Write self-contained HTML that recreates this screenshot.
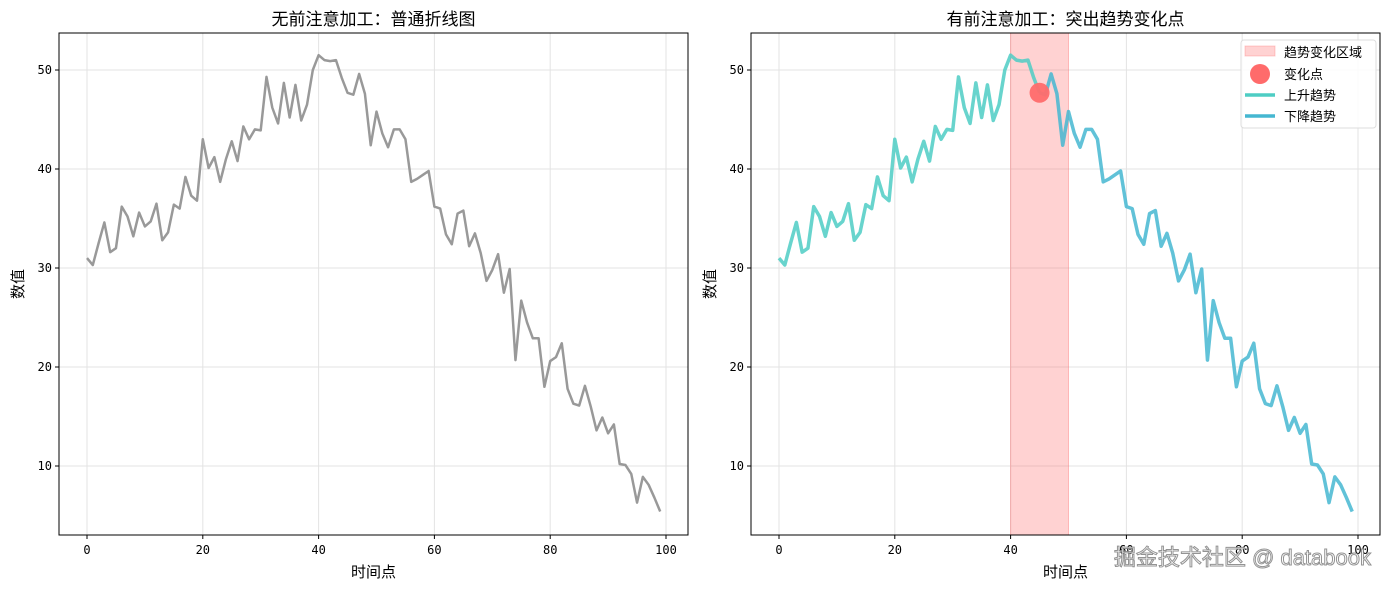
<!DOCTYPE html>
<html><head><meta charset="utf-8"><style>
body{margin:0;background:#fff;width:1390px;height:589px;overflow:hidden}
svg{display:block}
.t{font-family:"DejaVu Sans Mono","Liberation Mono",monospace;font-size:12px;fill:#000}
.c{font-family:"Liberation Sans","Noto Sans CJK SC",sans-serif}
</style></head><body>
<svg id="s" width="1390" height="589" xmlns="http://www.w3.org/2000/svg"></svg>
<script>
const d=[31.0,30.3,32.5,34.6,31.6,32.0,36.2,35.2,33.2,35.6,34.2,34.7,36.5,32.8,33.6,36.4,36.0,39.2,37.3,36.8,43.0,40.1,41.2,38.7,41.0,42.8,40.8,44.3,43.0,44.0,43.9,49.3,46.2,44.6,48.7,45.2,48.5,44.9,46.5,50.0,51.5,51.0,50.9,51.0,49.2,47.7,47.5,49.6,47.6,42.4,45.8,43.6,42.2,44.0,44.0,43.0,38.7,39.0,39.4,39.8,36.2,36.0,33.4,32.4,35.5,35.8,32.2,33.5,31.5,28.7,29.8,31.4,27.5,29.9,20.7,26.7,24.5,22.9,22.9,18.0,20.6,21.0,22.4,17.8,16.3,16.1,18.1,16.0,13.6,14.9,13.3,14.2,10.2,10.1,9.2,6.3,8.9,8.1,6.8,5.4];
const Y=v=>565-v*9.9;
let h='';
function panel(L,x0,title){
 const R=L+629,X=i=>x0+i*5.79;
 h+=`<rect x="${L}" y="33" width="629" height="502" fill="#fff"/>`;
 for(let i=0;i<=100;i+=20){h+=`<line x1="${X(i)}" x2="${X(i)}" y1="33" y2="535" stroke="#e3e3e3"/><line x1="${X(i)}" x2="${X(i)}" y1="535" y2="539" stroke="#000"/><text class="t" x="${X(i)}" y="554" text-anchor="middle">${i}</text>`}
 for(let v=10;v<=50;v+=10){h+=`<line x1="${L}" x2="${R}" y1="${Y(v)}" y2="${Y(v)}" stroke="#e3e3e3"/><line x1="${L-4}" x2="${L}" y1="${Y(v)}" y2="${Y(v)}" stroke="#000"/><text class="t" x="${L-7}" y="${Y(v)+4}" text-anchor="end">${v}</text>`}
 h+=`<text class="c" x="${(L+R)/2}" y="25" font-size="17" text-anchor="middle">${title}</text>`;
 h+=`<text class="c" x="${(L+R)/2}" y="577" font-size="15" text-anchor="middle">时间点</text>`;
 h+=`<text class="c" transform="translate(${L-36},284) rotate(-90)" font-size="15" text-anchor="middle">数值</text>`;
 return X;
}
let X=panel(59,87,'无前注意加工：普通折线图');
h+=`<polyline fill="none" stroke="#999" stroke-width="2.5" stroke-linejoin="round" points="${d.map((v,i)=>X(i)+','+Y(v)).join(' ')}"/>`;
h+=`<rect x="59" y="33" width="629" height="502" fill="none" stroke="#000"/>`;
X=panel(751,779,'有前注意加工：突出趋势变化点');
h+=`<rect x="${X(40)}" y="33" width="${X(50)-X(40)}" height="502" fill="#ff6b6b" fill-opacity="0.3" stroke="#ff6b6b" stroke-opacity="0.4"/>`;
h+=`<polyline fill="none" stroke="#4ecdc4" stroke-opacity="0.85" stroke-width="3.5" stroke-linejoin="round" points="${d.slice(0,46).map((v,i)=>X(i)+','+Y(v)).join(' ')}"/>`;
h+=`<polyline fill="none" stroke="#45b7d1" stroke-opacity="0.85" stroke-width="3.5" stroke-linejoin="round" points="${d.slice(45).map((v,i)=>X(i+45)+','+Y(v)).join(' ')}"/>`;
h+=`<circle cx="${X(45)}" cy="${Y(47.7)}" r="10" fill="#ff6b6b" fill-opacity="0.95"/>`;
h+=`<rect x="751" y="33" width="629" height="502" fill="none" stroke="#000"/>`;
h+=`<rect x="1241" y="40" width="135" height="88" rx="3" fill="#fff" fill-opacity="0.85" stroke="#ddd"/>`;
h+=`<rect x="1245" y="46" width="30" height="10" fill="#ff6b6b" fill-opacity="0.3" stroke="#ff6b6b" stroke-opacity="0.3"/>`;
h+=`<circle cx="1260" cy="74" r="10" fill="#ff6b6b"/>`;
h+=`<line x1="1245" x2="1275" y1="95" y2="95" stroke="#4ecdc4" stroke-width="3.5"/>`;
h+=`<line x1="1245" x2="1275" y1="116" y2="116" stroke="#45b7d1" stroke-width="3.5"/>`;
[['趋势变化区域',57],['变化点',79],['上升趋势',100],['下降趋势',121]].forEach(a=>h+=`<text class="c" x="1284" y="${a[1]}" font-size="13">${a[0]}</text>`);
h+=`<text class="c" x="1371" y="565" font-size="22" text-anchor="end" fill="#fff" stroke="#888" stroke-width="1" opacity="0.9">掘金技术社区 @ databook</text>`;
document.getElementById('s').innerHTML=h;
</script>
</body></html>
